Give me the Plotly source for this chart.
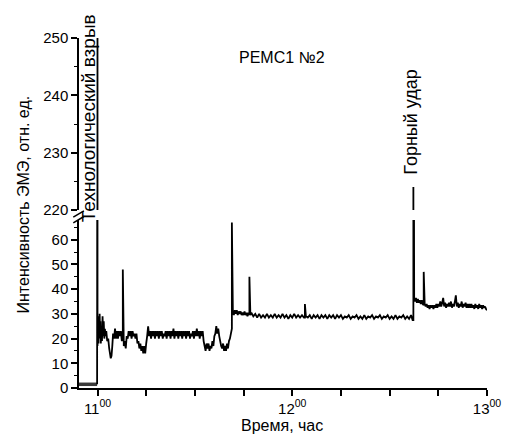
import plotly.graph_objects as go

# ---- data ----
base_time = [10.905, 10.998]
base_value = [1.5, 1.5]

time = [10.998, 11.0, 11.0, 11.003, 11.005, 11.007, 11.009, 11.011, 11.013, 11.015, 11.017,
        11.020, 11.023, 11.026, 11.029, 11.032, 11.035, 11.038, 11.041, 11.045, 11.050,
        11.055, 11.060, 11.064, 11.068, 11.072, 11.076, 11.080, 11.085, 11.090, 11.095,
        11.100, 11.105, 11.110, 11.115, 11.120, 11.125, 11.130, 11.130, 11.135, 11.140,
        11.145, 11.150, 11.155, 11.160, 11.165, 11.170, 11.175, 11.180, 11.185, 11.190,
        11.195, 11.200, 11.205, 11.210, 11.215, 11.220, 11.225, 11.230, 11.235, 11.240,
        11.245, 11.250, 11.255, 11.260, 11.265, 11.270, 11.275, 11.280, 11.285, 11.290,
        11.295, 11.300, 11.305, 11.310, 11.315, 11.320, 11.325, 11.330, 11.335, 11.340,
        11.345, 11.350, 11.355, 11.360, 11.365, 11.370, 11.375, 11.380, 11.385, 11.390,
        11.395, 11.400, 11.405, 11.410, 11.415, 11.420, 11.425, 11.430, 11.435, 11.440,
        11.445, 11.450, 11.455, 11.460, 11.465, 11.470, 11.475, 11.480, 11.485, 11.490,
        11.495, 11.500, 11.505, 11.510, 11.515, 11.520, 11.525, 11.530, 11.535, 11.540,
        11.545, 11.550, 11.555, 11.560, 11.565, 11.570, 11.575, 11.580, 11.585, 11.590,
        11.595, 11.600, 11.605, 11.610, 11.615, 11.620, 11.625, 11.630, 11.635, 11.640,
        11.645, 11.650, 11.655, 11.660, 11.665, 11.670, 11.675, 11.680, 11.685, 11.690,
        11.690, 11.695, 11.700, 11.705, 11.710, 11.715, 11.720, 11.725, 11.730, 11.735,
        11.740, 11.745, 11.750, 11.755, 11.760, 11.765, 11.770, 11.775, 11.780, 11.780,
        11.785, 11.790, 11.800, 11.810, 11.820, 11.830, 11.840, 11.850, 11.860, 11.870,
        11.880, 11.890, 11.900, 11.910, 11.920, 11.930, 11.940, 11.950, 11.960, 11.970,
        11.980, 11.990, 12.000, 12.010, 12.020, 12.030, 12.040, 12.050, 12.060, 12.065,
        12.065, 12.070, 12.080, 12.090, 12.100, 12.110, 12.120, 12.130, 12.140, 12.150,
        12.160, 12.170, 12.180, 12.190, 12.200, 12.210, 12.220, 12.230, 12.240, 12.250,
        12.260, 12.270, 12.280, 12.290, 12.300, 12.310, 12.320, 12.330, 12.340, 12.350,
        12.360, 12.370, 12.380, 12.390, 12.400, 12.410, 12.420, 12.430, 12.440, 12.450,
        12.460, 12.470, 12.480, 12.490, 12.500, 12.510, 12.520, 12.530, 12.540, 12.550,
        12.560, 12.570, 12.580, 12.590, 12.600, 12.610, 12.618, 12.622, 12.622, 12.626,
        12.630, 12.635, 12.640, 12.645, 12.650, 12.655, 12.660, 12.665, 12.670, 12.675,
        12.675, 12.680, 12.685, 12.690, 12.695, 12.700, 12.705, 12.710, 12.715, 12.720,
        12.725, 12.730, 12.735, 12.740, 12.745, 12.750, 12.755, 12.760, 12.765, 12.770,
        12.775, 12.780, 12.785, 12.790, 12.795, 12.800, 12.805, 12.810, 12.815, 12.820,
        12.825, 12.830, 12.835, 12.840, 12.845, 12.850, 12.855, 12.860, 12.865, 12.870,
        12.875, 12.880, 12.885, 12.890, 12.895, 12.900, 12.905, 12.910, 12.915, 12.920,
        12.925, 12.930, 12.935, 12.940, 12.945, 12.950, 12.955, 12.960, 12.965, 12.970,
        12.975, 12.980, 12.985, 12.990, 12.995, 13.000]

value = [1.5, 262, 17, 29, 18, 28, 20, 30, 22, 27, 18,
         25, 19, 29, 21, 27, 20, 24, 21, 23, 19,
         20, 16, 14, 12, 13, 17, 22, 20, 24, 20,
         23, 20, 23, 21, 23, 19, 22, 48, 17, 19,
         16, 21, 20, 23, 21, 23, 20, 23, 21, 22,
         20, 22, 18, 19, 16, 18, 15, 17, 14, 17,
         14, 18, 21, 25, 21, 23, 20, 23, 21, 23,
         20, 23, 21, 23, 20, 23, 21, 23, 20, 22,
         21, 23, 20, 23, 21, 23, 20, 23, 21, 24,
         20, 23, 21, 23, 20, 23, 21, 23, 20, 23,
         21, 23, 20, 23, 21, 23, 20, 22, 21, 23,
         20, 23, 21, 24, 21, 23, 20, 23, 21, 23,
         19, 17, 15, 18, 16, 18, 15, 17, 16, 19,
         17, 21, 22, 25, 22, 24, 21, 19, 17, 16,
         18, 15, 17, 15, 18, 16, 19, 20, 22, 24,
         67, 31, 29.5, 31.5, 30, 31.5, 29.5, 31, 30, 31,
         29.5, 30.5, 29.5, 31, 29.5, 30.5, 29, 30.5, 29.5, 45,
         29.5, 30.5, 29, 30, 28.5, 30, 28.5, 29.5, 28.5, 30,
         28.5, 29.5, 28.5, 30, 28.5, 29.5, 28.5, 30, 28.5, 29.5,
         28, 29.5, 28.5, 30, 28.5, 29.5, 28.5, 29.5, 28.5, 28.5,
         34, 29, 28.5, 29.5, 28, 29.5, 28.5, 29.5, 28, 29.5,
         28.5, 29.5, 28, 29.5, 28.5, 29.5, 28, 29.5, 28.5, 29.5,
         28, 29, 28.5, 29.5, 28, 29, 28.5, 29.5, 28, 29,
         28, 29.5, 28, 29, 28.5, 29.5, 28, 29, 28.5, 29.5,
         28, 29, 28.5, 29.5, 28, 29, 28, 29.5, 28, 29,
         28.5, 29.5, 28, 29, 28, 29.5, 27.5, 27.5, 224, 36,
         35, 36.5, 34.5, 36, 34.5, 35.5, 34, 35.5, 34, 33.5,
         47, 34, 33, 34, 32.5, 33.5, 32, 33.5, 32.5, 33.5,
         32, 33.5, 32.5, 34, 32.5, 34, 33, 35, 33, 34.5,
         36.5, 33, 34.5, 32.5, 34, 33, 34.5, 33, 35, 32.5,
         34, 33, 35, 37.5, 33, 34.5, 32.5, 34, 33, 35,
         32.5, 34, 33, 34.5, 32.5, 34, 32.5, 34, 32.5, 34,
         32.5, 33.5, 32, 34, 32.5, 33.5, 32, 34, 32.5, 33.5,
         32, 33.5, 32.5, 33, 32, 31.5]

x_tick_vals = [11, 11.25, 11.5, 11.75, 12, 12.25, 12.5, 12.75, 13]
x_tick_text = ["11<sup>00</sup>", "", "", "", "12<sup>00</sup>", "", "", "", "13<sup>00</sup>"]

low_ticks = [0, 10, 20, 30, 40, 50, 60]
high_ticks = [220, 230, 240, 250]

title_text = "РЕМС1 №2"
x_title = "Время, час"
y_title = "Интенсивность ЭМЭ, отн. ед."
event1 = "Технологический взрыв"
event2 = "Горный удар"
event1_time = 10.952
event2_time = 12.608

FONT = "Arial, 'Liberation Sans', sans-serif"

fig = go.Figure()
for ax in ["y", "y2"]:
    fig.add_trace(go.Scatter(x=base_time, y=base_value, mode="lines", xaxis="x", yaxis=ax,
                             line=dict(color="#3a3a3a", width=3.5, simplify=False),
                             showlegend=False, hoverinfo="skip"))
    fig.add_trace(go.Scatter(x=time, y=value, mode="lines", xaxis="x", yaxis=ax,
                             line=dict(color="black", width=1.8, simplify=False),
                             showlegend=False))

axis_common = dict(showline=True, linecolor="black", linewidth=1.5, ticks="outside",
                   tickcolor="black", tickwidth=1.5, ticklen=6, showgrid=False, zeroline=False,
                   tickfont=dict(family=FONT, size=15, color="black"))

# page body adds an 8px offset, so the figure is sized to fill the rest of the window
fig.update_layout(
    width=505, height=433, autosize=False,
    margin=dict(l=71, r=16, t=30, b=53),
    plot_bgcolor="white", paper_bgcolor="white",
    font=dict(family=FONT, color="black"),
    xaxis=dict(range=[10.905, 13.0], anchor="y", tickvals=x_tick_vals, ticktext=x_tick_text,
               **axis_common),
    yaxis=dict(range=[0, 68], domain=[0, 0.48], anchor="x", tickvals=low_ticks,
               minor=dict(dtick=5, ticks="outside", ticklen=3, tickcolor="black", tickwidth=1.2),
               **axis_common),
    yaxis2=dict(range=[220, 250], domain=[0.5086, 1], anchor="x", tickvals=high_ticks,
                minor=dict(dtick=5, ticks="outside", ticklen=3, tickcolor="black", tickwidth=1.2),
                **axis_common),
    annotations=[
        dict(text=title_text, xref="paper", yref="paper", x=0.4976, y=0.943, showarrow=False,
             font=dict(family=FONT, size=16), xanchor="center", yanchor="middle"),
        dict(text=x_title, xref="paper", yref="paper", x=0.4976, y=-0.106, showarrow=False,
             font=dict(family=FONT, size=16), xanchor="center", yanchor="middle"),
        dict(text=y_title, xref="paper", yref="paper", x=-0.136, y=0.523, showarrow=False,
             textangle=-90, font=dict(family=FONT, size=16), xanchor="center", yanchor="middle"),
        dict(text=event1, xref="x", yref="paper", x=event1_time, y=0.771, showarrow=False,
             textangle=-90, font=dict(family=FONT, size=19), xanchor="center", yanchor="middle"),
        dict(text=event2, xref="x", yref="paper", x=event2_time, y=0.76, showarrow=False,
             textangle=-90, font=dict(family=FONT, size=18), xanchor="center", yanchor="middle"),
    ],
    shapes=[
        dict(type="line", xref="paper", yref="paper", x0=-0.014, x1=0.012, y0=0.472, y1=0.49,
             line=dict(color="black", width=1.5)),
        dict(type="line", xref="paper", yref="paper", x0=-0.014, x1=0.012, y0=0.488, y1=0.506,
             line=dict(color="black", width=1.5)),
    ],
)

fig.write_html("out.html")
